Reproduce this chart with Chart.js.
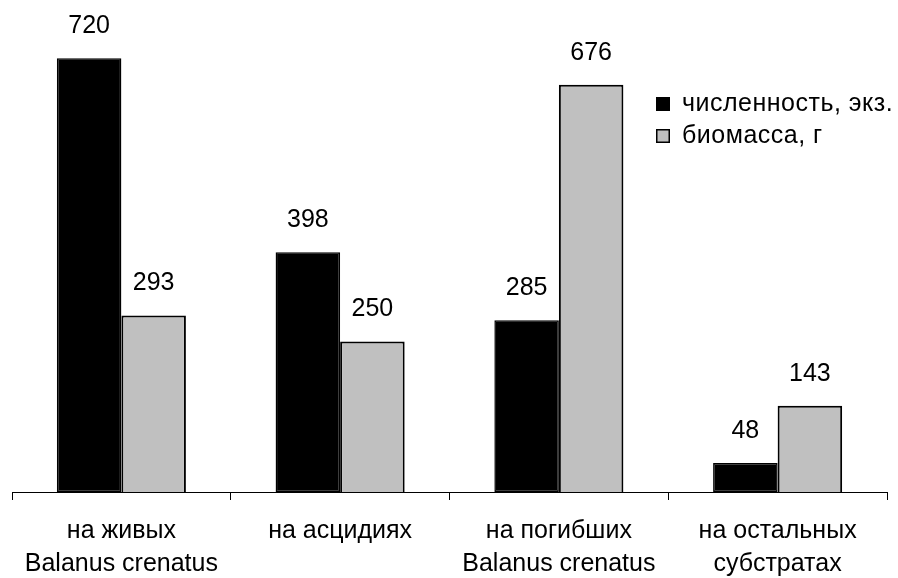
<!DOCTYPE html>
<html><head><meta charset="utf-8">
<script src="https://cdn.jsdelivr.net/npm/chart.js@4"></script>
<style>html,body{margin:0;padding:0;background:#fff}#w{width:898px;height:578px}</style>
</head><body><div id="w"><canvas id="c"></canvas></div>
<script>
const categories = [["на живых","Balanus crenatus"],["на асцидиях"],["на погибших","Balanus crenatus"],["на остальных","субстратах"]];
const seriesNames = ["численность, экз.","биомасса, г"];
const abundance = [720, 398, 285, 48];
const biomass = [293, 250, 676, 143];
const FONT = "'Liberation Sans', Arial, sans-serif";

const valueLabels = {
  id:'valueLabels',
  afterDatasetsDraw(chart){
    const ctx = chart.ctx;
    ctx.save();
    ctx.font = "25px " + FONT;
    ctx.fillStyle = '#000';
    ctx.textAlign = 'center';
    ctx.textBaseline = 'middle';
    chart.data.datasets.forEach((ds,i)=>{
      chart.getDatasetMeta(i).data.forEach((bar,j)=>{
        ctx.fillText(String(ds.data[j]), bar.x, bar.y - 32);
      });
    });
    ctx.restore();
  }
};
const legendBox = {
  id:'legendBox',
  afterDraw(chart){
    const ctx = chart.ctx;
    ctx.save();
    ctx.font = "25px " + FONT;
    try { ctx.letterSpacing = '0.5px'; } catch(e) {}
    ctx.textBaseline = 'middle';
    ctx.textAlign = 'left';
    chart.data.datasets.forEach((ds,i)=>{
      const y = 104 + i*32;
      ctx.fillStyle = ds.backgroundColor;
      ctx.fillRect(656, y-7, 14, 14);
      ctx.strokeStyle = '#000'; ctx.lineWidth = 1.5;
      ctx.strokeRect(656.75, y-6.25, 12.5, 12.5);
      ctx.fillStyle = '#000';
      ctx.fillText(ds.label, 682, y);
    });
    ctx.restore();
  }
};

new Chart(document.getElementById('c'), {
  type:'bar',
  data:{
    labels: categories,
    datasets:[
      {label: seriesNames[0], data: abundance, backgroundColor:'#000000', borderColor:'#000', borderWidth:1.5, borderSkipped:false},
      {label: seriesNames[1], data: biomass, backgroundColor:'#c0c0c0', borderColor:'#000', borderWidth:2, borderSkipped:'bottom'}
    ]
  },
  options:{
    responsive:true, maintainAspectRatio:false, animation:false,
    layout:{padding:{left:12,right:11,top:10,bottom:0}},
    datasets:{bar:{categoryPercentage:0.59, barPercentage:1.0}},
    plugins:{legend:{display:false}, tooltip:{enabled:false}},
    scales:{
      x:{
        grid:{display:true, offset:true, drawOnChartArea:false, tickLength:8, color:'#000', lineWidth:1},
        border:{display:true, color:'#000', width:1},
        ticks:{color:'#000', font:{family:FONT, size:25, lineHeight:1.32}, padding:15, maxRotation:0, autoSkip:false},
        afterFit(s){ s.height = 86; }
      },
      y:{display:false, min:0, max:800}
    }
  },
  plugins:[valueLabels, legendBox]
});
</script></body></html>
